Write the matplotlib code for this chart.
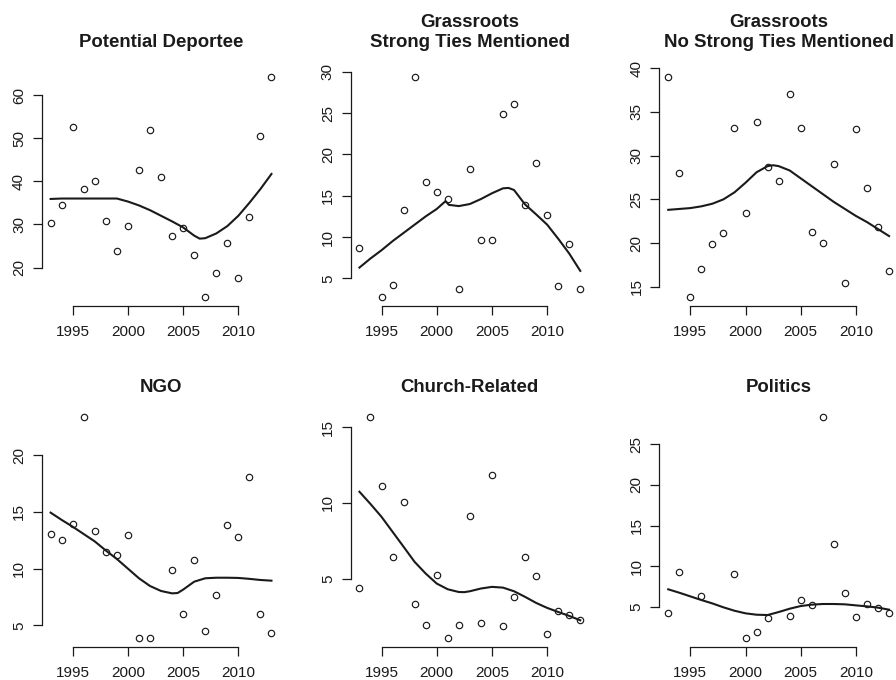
import matplotlib
matplotlib.use("Agg")
import matplotlib.pyplot as plt

plt.rcParams['font.family'] = ['Liberation Sans', 'DejaVu Sans']

# ---------------- data ----------------
years_full = list(range(1993, 2014))
x_ticks = [1995, 2000, 2005, 2010]

# Potential Deportee
dep_years = years_full
dep_values = [30.3, 34.4, 52.6, 38.1, 40.0, 30.9, 23.9, 29.6, 42.5, 52.0, 41.0,
              27.2, 29.2, 23.0, 13.1, 18.8, 25.7, 17.6, 31.8, 50.4, 64.2]
dep_smooth_x = [1993, 1994, 1995, 1996, 1997, 1998, 1999, 2000, 2001, 2002, 2003,
                2004, 2005, 2006, 2006.5, 2007, 2008, 2009, 2010, 2011, 2012, 2013]
dep_smooth_y = [35.9, 36.0, 36.0, 36.0, 36.0, 36.0, 36.0, 35.3, 34.4, 33.3, 32.0,
                30.7, 29.3, 27.4, 26.7, 26.8, 27.9, 29.6, 32.0, 35.0, 38.2, 41.7]
dep_yticks = [20, 30, 40, 50, 60]

# Grassroots, strong ties mentioned
gst_years = [1993, 1995, 1996, 1997, 1998, 1999, 2000, 2001, 2002, 2003, 2004,
             2005, 2006, 2007, 2008, 2009, 2010, 2011, 2012, 2013]
gst_values = [8.7, 2.7, 4.2, 13.3, 29.4, 16.65, 15.4, 14.56, 3.67, 18.2, 9.68,
              9.68, 24.9, 26.1, 13.9, 19.0, 12.7, 4.07, 9.15, 3.67]
gst_smooth_x = [1993, 1994, 1995, 1996, 1997, 1998, 1999, 2000, 2000.8, 2001.1,
                2002, 2003, 2004, 2005, 2006, 2006.5, 2007, 2008, 2009, 2010,
                2011, 2012, 2013]
gst_smooth_y = [6.3, 7.4, 8.4, 9.5, 10.5, 11.5, 12.5, 13.4, 14.35, 13.9,
                13.75, 14.0, 14.6, 15.3, 15.9, 15.95, 15.7, 13.95, 12.75, 11.5,
                9.8, 8.0, 5.9]
gst_yticks = [5, 10, 15, 20, 25, 30]

# Grassroots, no strong ties mentioned
gns_years = years_full
gns_values = [39.0, 28.0, 13.8, 17.0, 19.9, 21.2, 33.2, 23.4, 33.8, 28.7, 27.1,
              37.1, 33.2, 21.3, 20.06, 29.0, 15.4, 33.1, 26.3, 21.8, 16.75]
gns_smooth_x = [1993, 1994, 1995, 1996, 1997, 1998, 1999, 2000, 2001, 2002,
                2002.5, 2003, 2004, 2005, 2006, 2007, 2008, 2009, 2010, 2011,
                2012, 2013]
gns_smooth_y = [23.8, 23.9, 24.0, 24.2, 24.5, 25.0, 25.8, 26.9, 28.1, 28.8,
                28.9, 28.8, 28.3, 27.4, 26.5, 25.6, 24.7, 23.9, 23.1, 22.4,
                21.6, 20.8]
gns_yticks = [15, 20, 25, 30, 35, 40]

# NGO
ngo_years = [1993, 1994, 1995, 1996, 1997, 1998, 1999, 2000, 2001, 2002, 2004,
             2005, 2006, 2007, 2008, 2009, 2010, 2011, 2012, 2013]
ngo_values = [13.1, 12.5, 13.94, 23.35, 13.3, 11.44, 11.18, 12.97, 3.91, 3.91,
              9.85, 5.97, 10.8, 4.5, 7.65, 13.85, 12.76, 18.06, 5.97, 4.35]
ngo_smooth_x = [1993, 1994, 1995, 1996, 1997, 1998, 1999, 2000, 2001, 2002, 2003,
                2004, 2004.5, 2005, 2006, 2007, 2008, 2009, 2010, 2011, 2012, 2013]
ngo_smooth_y = [14.94, 14.3, 13.7, 13.05, 12.4, 11.6, 10.85, 10.0, 9.15, 8.47,
                8.03, 7.82, 7.85, 8.15, 8.85, 9.15, 9.2, 9.2, 9.18, 9.1, 9.0, 8.94]
ngo_yticks = [5, 10, 15, 20]

# Church-Related
chu_years = years_full
chu_values = [4.40, 15.66, 11.11, 6.41, 10.05, 3.32, 1.95, 5.22, 1.09, 1.95, 9.15,
              2.09, 11.84, 1.87, 3.76, 6.41, 5.2, 1.36, 2.86, 2.57, 2.24]
chu_smooth_x = [1993, 1994, 1995, 1996, 1997, 1998, 1999, 2000, 2001, 2002,
                2002.5, 2003, 2004, 2005, 2006, 2007, 2008, 2009, 2010, 2011,
                2012, 2013]
chu_smooth_y = [10.74, 9.93, 9.08, 8.09, 7.1, 6.1, 5.33, 4.67, 4.29, 4.11, 4.1,
                4.16, 4.34, 4.45, 4.4, 4.16, 3.79, 3.39, 3.06, 2.79, 2.53, 2.24]
chu_yticks = [5, 10, 15]

# Politics
pol_years = [1993, 1994, 1996, 1999, 2000, 2001, 2002, 2004, 2005, 2006, 2007,
             2008, 2009, 2010, 2011, 2012, 2013]
pol_values = [4.26, 9.31, 6.31, 9.07, 1.18, 1.84, 3.64, 3.85, 5.78, 5.21, 28.33,
              12.68, 6.72, 3.69, 5.33, 4.79, 4.26]
pol_smooth_x = years_full
pol_smooth_y = [7.14, 6.72, 6.27, 5.82, 5.4, 4.92, 4.5, 4.18, 4.01, 3.97, 4.34,
                4.75, 5.08, 5.25, 5.33, 5.33, 5.29, 5.16, 5.04, 4.88, 4.63]
pol_yticks = [5, 10, 15, 20, 25]

titles = [["Potential Deportee"],
          ["Grassroots", "Strong Ties Mentioned"],
          ["Grassroots", "No Strong Ties Mentioned"],
          ["NGO"], ["Church-Related"], ["Politics"]]

panels = [
    (dep_years, dep_values, dep_smooth_x, dep_smooth_y, dep_yticks),
    (gst_years, gst_values, gst_smooth_x, gst_smooth_y, gst_yticks),
    (gns_years, gns_values, gns_smooth_x, gns_smooth_y, gns_yticks),
    (ngo_years, ngo_values, ngo_smooth_x, ngo_smooth_y, ngo_yticks),
    (chu_years, chu_values, chu_smooth_x, chu_smooth_y, chu_yticks),
    (pol_years, pol_values, pol_smooth_x, pol_smooth_y, pol_yticks),
]

# ---------------- layout (pixels) ----------------
W, H = 896, 680
fig = plt.figure(figsize=(W / 100, H / 100), dpi=100)
lefts = [41.8, 350.6, 659.4]
tops = [68.1, 408.5]
pw, ph = 238.5, 238.0
title_off = [15.4, 12.1]      # baseline offset above plot top (pt)
line_gap = 14.4               # between title lines (pt)
ink = '#1a1a1a'

for i, (xs, ys, sx, sy, yt) in enumerate(panels):
    row, col = divmod(i, 3)
    l, t = lefts[col], tops[row]
    ax = fig.add_axes([l / W, 1 - (t + ph) / H, pw / W, ph / H])
    ax.patch.set_visible(False)
    ax.plot(xs, ys, 'o', mfc='none', mec=ink, ms=4.6, mew=0.85, clip_on=False)
    ax.plot(sx, sy, '-', color=ink, lw=1.5, clip_on=False)

    xr = max(xs) - min(xs)
    ax.set_xlim(min(xs) - 0.04 * xr, max(xs) + 0.04 * xr)
    yr = max(ys) - min(ys)
    ax.set_ylim(min(ys) - 0.04 * yr, max(ys) + 0.04 * yr)

    ax.set_xticks(x_ticks)
    ax.set_yticks(yt)
    for s in ['top', 'right']:
        ax.spines[s].set_visible(False)
    ax.spines['bottom'].set_bounds(x_ticks[0], x_ticks[-1])
    ax.spines['left'].set_bounds(yt[0], yt[-1])
    for s in ['bottom', 'left']:
        ax.spines[s].set_color(ink)
        ax.spines[s].set_linewidth(0.9)
    ax.tick_params(axis='both', direction='out', length=6.5, width=0.9,
                   color=ink, labelcolor=ink, labelsize=11)
    ax.tick_params(axis='x', pad=7.3)
    ax.tick_params(axis='y', pad=4.8, labelrotation=90)
    for lab in ax.get_yticklabels():
        lab.set_verticalalignment('center')

    lines = titles[i]
    for k, txt in enumerate(reversed(lines)):
        ax.annotate(txt, xy=(0.5, 1), xycoords='axes fraction',
                    xytext=(0, title_off[row] + k * line_gap),
                    textcoords='offset points', ha='center', va='baseline',
                    fontsize=13.4, fontweight='bold', color=ink)

fig.savefig('out.png', dpi=100, facecolor='white')
